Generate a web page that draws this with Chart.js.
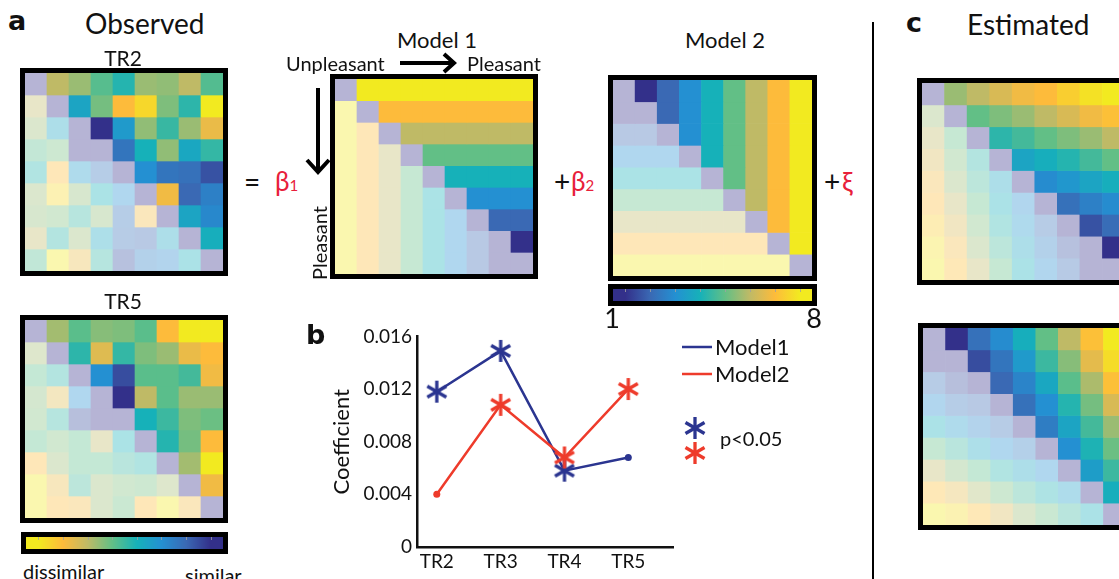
<!DOCTYPE html>
<html><head><meta charset="utf-8">
<script src="https://cdn.jsdelivr.net/npm/chart.js@4.4.0/dist/chart.umd.min.js"></script>
<style>
html,body{margin:0;padding:0;background:#fff;}
#page{position:relative;width:1119px;height:579px;overflow:hidden;background:#fff;font-family:Lato,"Open Sans",sans-serif;color:#111;}
canvas{position:absolute;display:block;}
.t{position:absolute;white-space:nowrap;line-height:1;}
svg{position:absolute;left:0;top:0;}
</style></head>
<body><div id="page"></div>
<script>
// ---------------- DATA ----------------
const cbValues = [1,2,3,4,5,6,7,8];
const cmapColors = ['#33308a','#3a69b4','#2490d2','#16b1b9','#62bf86','#bfba66','#fdbb3b','#f2ea20'];

// upper-triangle values (row i, columns i+1..8), scale 1..8
const tr2Upper = [
  [6.0,5.6,4.85,4.2,5.6,5.5,6.0,4.8],
  [3.6,5.2,7.0,7.6,5.3,4.3,8.0],
  [1.0,3.3,5.5,4.45,5.6,6.7],
  [2.3,4.0,5.5,3.7,4.4],
  [3.0,2.3,2.2,1.6],
  [6.8,2.0,2.6],
  [3.6,2.8],
  [3.9]
];
const tr5Upper = [
  [5.7,4.9,5.4,5.3,4.9,7.0,8.0,8.0],
  [4.3,6.5,4.4,5.3,5.6,6.7,7.0],
  [3.0,1.5,4.9,4.9,4.6,6.8],
  [1.0,6.0,4.9,5.6,5.6],
  [4.0,4.5,5.3,5.1],
  [4.2,5.2,7.0],
  [5.7,8.0],
  [6.8]
];
const model1Upper = [
  [8,8,8,8,8,8,8,8],
  [7,7,7,7,7,7,7],
  [6,6,6,6,6,6],
  [5,5,5,5,5],
  [4,4,4,4],
  [3,3,3],
  [2,2],
  [1]
];
const model2Upper = [
  [1,2,3,4,5,6,7,8],
  [2,3,4,5,6,7,8],
  [3,4,5,6,7,8],
  [4,5,6,7,8],
  [5,6,7,8],
  [6,7,8],
  [7,8],
  [8]
];
const estTopUpper = [
  [5.6,6.0,6.4,6.8,7.0,7.4,7.8,8.0],
  [5.0,5.3,5.6,6.0,6.4,6.8,7.1],
  [4.3,4.6,5.0,5.3,5.6,6.0],
  [3.6,3.9,4.2,4.6,5.0],
  [2.9,3.2,3.6,3.9],
  [2.2,2.6,2.9],
  [1.6,2.1],
  [1.0]
];
const estBotUpper = [
  [1.0,2.2,2.9,3.9,5.0,6.0,7.1,8.0],
  [1.5,2.3,3.3,4.5,5.4,6.6,7.7],
  [2.0,2.7,3.7,4.9,5.8,7.1],
  [2.2,3.0,4.2,5.2,6.4],
  [2.5,3.6,4.6,5.6],
  [3.0,4.1,5.1],
  [3.4,4.5],
  [3.9]
];

const trLabels = ['TR2','TR3','TR4','TR5'];
const model1Coef = [0.0118,0.0149,0.0058,0.0068];
const model2Coef = [0.0040,0.0108,0.0068,0.0120];
const model1Sig = [true,true,true,false];
const model2Sig = [false,true,true,true];
const yTicks = [0,0.004,0.008,0.012,0.016];

// ---------------- HELPERS ----------------
const page = document.getElementById('page');
const FONT = 'Lato, "Open Sans", sans-serif';
function hex2rgb(h){return [parseInt(h.slice(1,3),16),parseInt(h.slice(3,5),16),parseInt(h.slice(5,7),16)];}
function cmapRGB(v){
  v=Math.max(cbValues[0],Math.min(cbValues[cbValues.length-1],v));
  let i=Math.min(cbValues.length-2,Math.floor(v-cbValues[0]));
  const t=(v-cbValues[i]);
  const a=hex2rgb(cmapColors[i]),b=hex2rgb(cmapColors[i+1]);
  return a.map((x,k)=>Math.round(x+(b[k]-x)*t));
}
function rgbStr(c){return `rgb(${c[0]},${c[1]},${c[2]})`;}
function cmap(v){return rgbStr(cmapRGB(v));}
function fade(v){const c=cmapRGB(v);const a=0.36;return rgbStr(c.map(x=>Math.round(255-(255-x)*a)));}

function mkCanvas(x,y,w,h){const c=document.createElement('canvas');c.width=w;c.height=h;c.style.left=x+'px';c.style.top=y+'px';c.style.width=w+'px';c.style.height=h+'px';page.appendChild(c);return c;}

function lab(txt,x,y,o={}){
  const d=document.createElement('div');d.className='t';d.innerHTML=txt;
  d.style.left=x+'px';d.style.top=y+'px';d.style.fontSize=(o.size||20)+'px';
  if(o.bold)d.style.fontWeight='bold';
  if(o.family)d.style.fontFamily=o.family;
  if(o.color)d.style.color=o.color;
  const tx=o.align==='left'?'0':(o.align==='right'?'-100%':'-50%');
  d.style.transform=`translate(${tx},-50%)`+(o.rot?` rotate(${o.rot}deg)`:'');
  page.appendChild(d);
}

const framePlugin={id:'frame',afterDraw(ch){const a=ch.chartArea,c=ch.ctx;c.save();c.strokeStyle='#000';c.lineWidth=5;c.strokeRect(a.left-2.5,a.top-2.5,a.right-a.left+5,a.bottom-a.top+5);c.restore();}};

function matrixChart(upper,x,y,w,h){
  const cv=mkCanvas(x,y,w,h);
  const n=upper.length+1;
  const cols=[];for(let j=0;j<n;j++)cols.push(String(j+1));
  const datasets=[];
  for(let i=0;i<n;i++){
    const data=[],colors=[];
    for(let j=0;j<n;j++){
      data.push([i,i+1]);
      if(j>i)colors.push(cmap(upper[i][j-i-1]));
      else if(j<i)colors.push(fade(upper[j][i-j-1]));
      else colors.push(fade(cbValues[0]));
    }
    datasets.push({data,backgroundColor:colors,borderWidth:0,barPercentage:1,categoryPercentage:1,grouped:false});
  }
  new Chart(cv,{type:'bar',data:{labels:cols,datasets},
    options:{responsive:false,animation:false,events:[],layout:{padding:5},
      plugins:{legend:{display:false},tooltip:{enabled:false}},
      scales:{x:{display:false},y:{display:false,min:0,max:n,reverse:true}}},
    plugins:[framePlugin]});
}

function colorbarChart(x,y,w,h,reverse){
  const cv=mkCanvas(x,y,w,h);
  const gradPlugin={id:'grad',beforeDatasetsDraw(ch){
    const xs=ch.scales.x,a=ch.chartArea,c=ch.ctx;
    const p0=xs.getPixelForValue(cbValues[0]-0.5),p1=xs.getPixelForValue(cbValues[cbValues.length-1]+0.5);
    const g=c.createLinearGradient(p0,0,p1,0);
    const span=cbValues.length;
    cbValues.forEach(v=>g.addColorStop((v-(cbValues[0]-0.5))/span,cmap(v)));
    g.addColorStop(0,cmap(cbValues[0]));g.addColorStop(1,cmap(cbValues[cbValues.length-1]));
    c.save();c.fillStyle=g;c.fillRect(a.left,a.top,a.right-a.left,a.bottom-a.top);
    c.strokeStyle='rgba(160,160,160,0.8)';c.lineWidth=1;
    cbValues.forEach(v=>{const px=Math.round(xs.getPixelForValue(v))+0.5;c.beginPath();c.moveTo(px,a.top);c.lineTo(px,a.top+3);c.stroke();});
    c.restore();
  }};
  new Chart(cv,{type:'scatter',data:{datasets:[{data:[]}]},
    options:{responsive:false,animation:false,events:[],layout:{padding:5},
      plugins:{legend:{display:false},tooltip:{enabled:false}},
      scales:{x:{display:false,min:cbValues[0]-0.5,max:cbValues[cbValues.length-1]+0.5,reverse:!!reverse},y:{display:false,min:0,max:1}}},
    plugins:[gradPlugin,framePlugin]});
}

function starImg(color){
  const c=document.createElement('canvas');c.width=c.height=26;const g=c.getContext('2d');
  g.strokeStyle=color;g.lineWidth=3.3;const r=11;
  [90,30,150].forEach(a=>{const t=a*Math.PI/180;g.beginPath();g.moveTo(13-r*Math.cos(t),13-r*Math.sin(t));g.lineTo(13+r*Math.cos(t),13+r*Math.sin(t));g.stroke();});
  return c;
}

// ---------------- MATRICES ----------------
matrixChart(tr2Upper,20,68,208,208);
matrixChart(tr5Upper,20,315,208,208);
matrixChart(model1Upper,330,74,208,205);
matrixChart(model2Upper,608,75,209,206);
matrixChart(estTopUpper,917,78,213,207);
matrixChart(estBotUpper,918,323,213,207);
colorbarChart(21,532,207,22,true);
colorbarChart(608,284,209,22,false);

// ---------------- LINE CHART ----------------
const BLUE='#2b3590',RED='#ee3b2b';
const starBlue=starImg(BLUE),starRed=starImg(RED);
const legendPlugin={id:'lg',afterDraw(ch){
  const c=ch.ctx;c.save();
  const items=[{col:BLUE,y:27},{col:RED,y:54}];
  items.forEach(it=>{c.strokeStyle=it.col;c.lineWidth=2.5;c.beginPath();c.moveTo(382,it.y);c.lineTo(412,it.y);c.stroke();});
  c.drawImage(starBlue,395-13,108-13);
  c.drawImage(starRed,395-13,133-13);
  c.restore();
}};
new Chart(mkCanvas(300,320,500,259),{
  type:'line',
  data:{datasets:[
    {label:'Model1',order:1,data:model1Coef.map((v,i)=>({x:i,y:v})),borderColor:BLUE,backgroundColor:BLUE,borderWidth:2.5,
     pointStyle:model1Sig.map(s=>s?starBlue:'circle'),pointRadius:model1Sig.map(s=>s?10:3.5),pointBorderWidth:0},
    {label:'Model2',order:0,data:model2Coef.map((v,i)=>({x:i,y:v})),borderColor:RED,backgroundColor:RED,borderWidth:2.5,
     pointStyle:model2Sig.map(s=>s?starRed:'circle'),pointRadius:model2Sig.map(s=>s?10:3.5),pointBorderWidth:0}
  ]},
  options:{responsive:false,animation:false,events:[],
    layout:{padding:{left:0,top:13,right:127,bottom:0}},
    plugins:{legend:{display:false},tooltip:{enabled:false}},
    scales:{
      x:{type:'linear',min:-0.31,max:3.7,
        grid:{display:false,drawTicks:false},border:{display:true,color:'#111',width:2.5},
        ticks:{color:'#111',font:{family:FONT,size:19},padding:3,autoSkip:false,maxRotation:0,callback:v=>trLabels[v]??''},
        afterBuildTicks:s=>{s.ticks=trLabels.map((_,i)=>({value:i}));},
        afterFit:s=>{s.height=32;}},
      y:{min:yTicks[0],max:yTicks[yTicks.length-1],
        grid:{display:false,drawTicks:false},border:{display:true,color:'#111',width:2.5},
        afterBuildTicks:s=>{s.ticks=yTicks.map(v=>({value:v}));},
        ticks:{color:'#111',font:{family:FONT,size:19},padding:5,callback:v=>v===0?'0':v.toFixed(3)},
        title:{display:true,text:'Coefficient',color:'#111',font:{family:FONT,size:22},padding:{top:29,bottom:0}},
        afterFit:s=>{s.width=117;}}
    }},
  plugins:[legendPlugin]
});

// ---------------- TEXT ----------------
const RED_T='#e8203a';
lab('a',8,20,{size:27,bold:true,family:'"DejaVu Sans",sans-serif',align:'left'});
lab('Observed',85,23,{size:28,align:'left'});
lab('TR2',123,57,{size:21});
lab('TR5',123,300,{size:21});
lab('dissimilar',23,571,{size:20,align:'left'});
lab('similar',185,575,{size:20,align:'left'});
lab('=',252,181,{size:28});
lab('β<span style="font-size:15px">1</span>',275,181,{size:26,color:RED_T,align:'left'});
lab('Model 1',437,40,{size:22});
lab('Unpleasant',286,63,{size:20,align:'left'});
lab('Pleasant',467,63,{size:20,align:'left'});
lab('Pleasant',319,243,{size:20,rot:-90});
lab('+',554,181,{size:28,align:'left'});
lab('β<span style="font-size:15px">2</span>',571,181,{size:26,color:RED_T,align:'left'});
lab('Model 2',725,40,{size:22});
lab('1',612,317,{size:27});
lab('8',814,317,{size:27});
lab('+',824,181,{size:28,align:'left'});
lab('ξ',842,181,{size:27,color:RED_T,align:'left'});
lab('c',906,22,{size:27,bold:true,family:'"DejaVu Sans",sans-serif',align:'left'});
lab('Estimated',967,24,{size:28,align:'left'});
lab('b',306,334,{size:27,bold:true,family:'"DejaVu Sans",sans-serif',align:'left'});
lab('Model1',715,347,{size:22,align:'left'});
lab('Model2',715,374,{size:22,align:'left'});
lab('p&lt;0.05',720,438,{size:20,align:'left'});

// ---------------- ARROWS / SEPARATOR ----------------
page.insertAdjacentHTML('beforeend',`<svg width="1119" height="579">
<line x1="400" y1="63" x2="452" y2="63" stroke="#000" stroke-width="4"/>
<polyline points="444,54 454,63 444,72" fill="none" stroke="#000" stroke-width="4"/>
<line x1="318" y1="88" x2="318" y2="170" stroke="#000" stroke-width="4"/>
<polyline points="307,160 318,172 329,160" fill="none" stroke="#000" stroke-width="4"/>
<line x1="873" y1="22" x2="873" y2="579" stroke="#000" stroke-width="2"/>
</svg>`);
</script>
</body></html>
